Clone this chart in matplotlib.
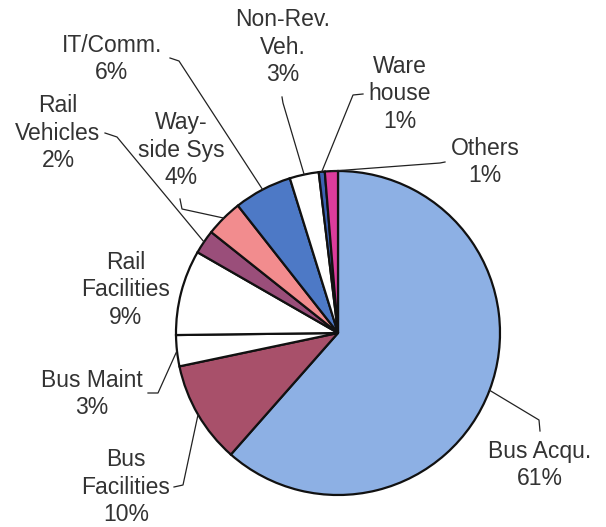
import numpy as np
import matplotlib
matplotlib.use('Agg')
import matplotlib.pyplot as plt

# ---------------------------------------------- datos
labels = ['Bus Acqu.\n61%', 'Bus\nFacilities\n10%', 'Bus Maint\n3%', 'Rail\nFacilities\n9%',
          'Rail\nVehicles\n2%', 'Way-\nside Sys\n4%', 'IT/Comm.\n6%', 'Non-Rev.\nVeh.\n3%',
          'Ware\nhouse\n1%', 'Others\n1%']
values = [61.5, 10.2, 3.1, 8.5, 2.4, 3.7, 5.8, 2.9, 0.6, 1.3]
colors = ['#8db0e4', '#a8506a', '#ffffff', '#ffffff', '#9a4e7a', '#f28c8e', '#4d79c6',
          '#ffffff', '#3c62b2', '#dc3c9c']

# posiciones (pixeles de la imagen, y hacia abajo)
W, H = 606, 527
center_px = (338, 333)
radius_px = 162
text_pos = [(540, 465), (126, 487), (92, 394), (126, 290), (58, 133), (181, 150),
            (112, 59), (283, 47), (400, 94), (485, 162)]
# puntos del conector: inicio y codo (None = sin conector)
leaders = [[(540, 431), (539, 420)], [(174, 487), (183, 485)], [(148, 393), (158, 393)],
           None, [(105, 133), (117, 137)], [(180, 199), (182, 209)], [(170, 58), (179, 61)],
           [(282, 97), (283, 103)], [(363, 94), (353, 95)], [(445, 162), (440, 163)]]


def Y(y):
    return H - y


fig = plt.figure(figsize=(W / 100, H / 100), dpi=100)
ax = fig.add_axes([0, 0, 1, 1])

cx, cy = center_px[0], Y(center_px[1])
wedges, _ = ax.pie(values, colors=colors, startangle=90, counterclock=False,
                   center=(cx, cy), radius=radius_px,
                   wedgeprops=dict(edgecolor='#111111', linewidth=1.6))

ax.set_xlim(0, W)
ax.set_ylim(0, H)
ax.set_aspect('equal')
ax.axis('off')

for w, lab, pos, ld in zip(wedges, labels, text_pos, leaders):
    ax.text(pos[0], Y(pos[1]), lab, ha='center', va='center', fontsize=16.5,
            family='Liberation Sans', color='#333333', linespacing=1.25)
    if ld is None:
        continue
    ang = np.deg2rad((w.theta1 + w.theta2) / 2)
    ex = cx + radius_px * np.cos(ang)
    ey = cy + radius_px * np.sin(ang)
    xs = [ld[0][0], ld[1][0], ex]
    ys = [Y(ld[0][1]), Y(ld[1][1]), ey]
    ax.plot(xs, ys, color='#222222', lw=0.9)

fig.savefig('out.png', dpi=100)
